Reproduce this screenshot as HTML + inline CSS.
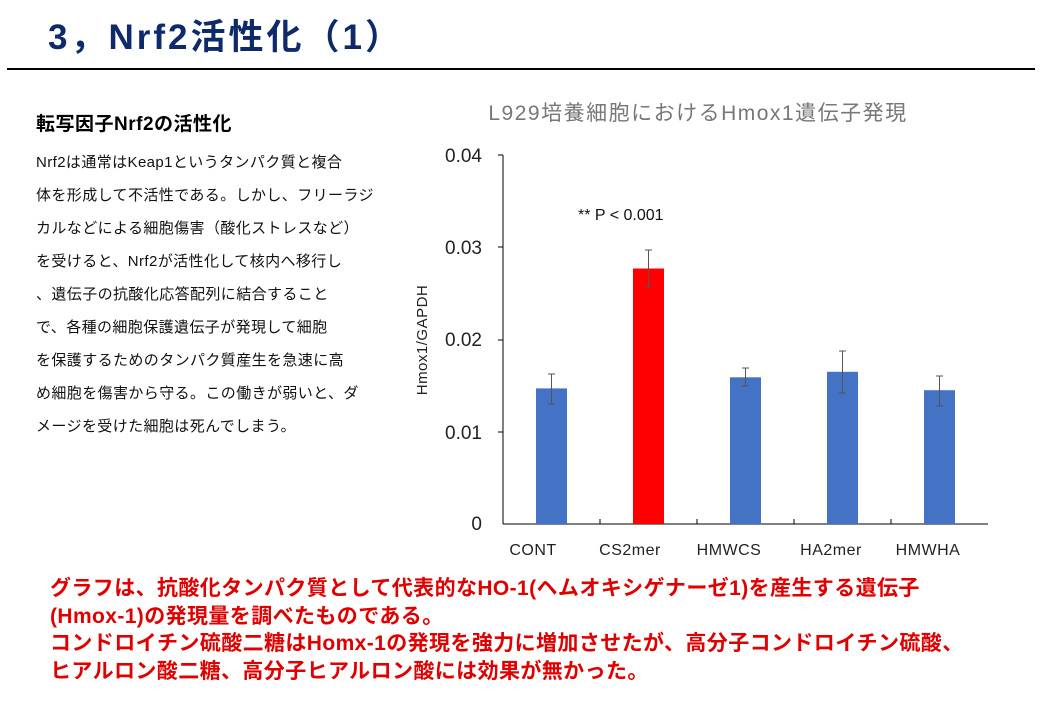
<!DOCTYPE html>
<html><head><meta charset="utf-8"><style>
body{margin:0;width:1040px;height:720px;background:#fff;position:relative;overflow:hidden;font-family:"Liberation Sans","Noto Sans CJK JP",sans-serif}
.t{position:absolute;white-space:nowrap}
</style></head><body>
<div class="t" style="left:48px;top:15px;font-size:35px;font-weight:bold;color:#0e2a6b;line-height:46px;letter-spacing:3px">3，Nrf2活性化（1）</div>
<div style="position:absolute;left:7px;top:68px;width:1028px;height:1.5px;background:#000"></div>
<div class="t" style="left:36px;top:112px;font-size:19px;font-weight:bold;line-height:26px;letter-spacing:0.5px">転写因子Nrf2の活性化</div>
<div class="t" style="left:36px;top:146px;font-size:15px;line-height:33px;color:#111;letter-spacing:0.4px">Nrf2は通常はKeap1というタンパク質と複合<br>体を形成して不活性である。しかし、フリーラジ<br>カルなどによる細胞傷害（酸化ストレスなど）<br>を受けると、Nrf2が活性化して核内へ移行し<br>、遺伝子の抗酸化応答配列に結合すること<br>で、各種の細胞保護遺伝子が発現して細胞<br>を保護するためのタンパク質産生を急速に高<br>め細胞を傷害から守る。この働きが弱いと、ダ<br>メージを受けた細胞は死んでしまう。</div>
<svg width="1040" height="720" style="position:absolute;left:0;top:0" font-family="Liberation Sans, Noto Sans CJK JP, sans-serif">
<text x="698" y="120" font-size="21" fill="#777" text-anchor="middle" letter-spacing="1.5">L929培養細胞におけるHmox1遺伝子発現</text>
<g font-size="19" fill="#222" text-anchor="end">
<text x="482" y="162">0.04</text><text x="482" y="254">0.03</text><text x="482" y="346">0.02</text><text x="482" y="439">0.01</text><text x="482" y="530">0</text>
</g>
<text transform="translate(427,340) rotate(-90)" font-size="15" fill="#222" text-anchor="middle" letter-spacing="0.5">Hmox1/GAPDH</text>
<g stroke="#000" stroke-width="1">
<line x1="503" y1="155" x2="503" y2="524"/><line x1="503" y1="524" x2="988" y2="524"/>
<line x1="498" y1="155" x2="503" y2="155"/><line x1="498" y1="247" x2="503" y2="247"/><line x1="498" y1="340" x2="503" y2="340"/><line x1="498" y1="432" x2="503" y2="432"/>
<line x1="600" y1="519" x2="600" y2="524"/><line x1="697" y1="519" x2="697" y2="524"/><line x1="794" y1="519" x2="794" y2="524"/><line x1="891" y1="519" x2="891" y2="524"/>
</g>
<rect x="536" y="388.4" width="31" height="135.6" fill="#4472c4"/>
<rect x="633" y="268.5" width="31" height="255.5" fill="#ff0000"/>
<rect x="730" y="377.3" width="31" height="146.7" fill="#4472c4"/>
<rect x="827" y="371.8" width="31" height="152.2" fill="#4472c4"/>
<rect x="924" y="390.2" width="31" height="133.8" fill="#4472c4"/>
<g stroke="#555" stroke-width="1">
<path d="M551.5 374v30M548 374h7M548 404h7"/>
<path d="M648.5 250v37M645 250h7M645 287h7"/>
<path d="M745.5 368v18M742 368h7M742 386h7"/>
<path d="M842.5 351v42M839 351h7M839 393h7"/>
<path d="M939.5 376v30M936 376h7M936 406h7"/>
</g>
<text x="578" y="220" font-size="16" fill="#111">** P &lt; 0.001</text>
<g font-size="16" fill="#222" text-anchor="middle" letter-spacing="0.5">
<text x="533" y="555">CONT</text><text x="630" y="555">CS2mer</text><text x="729" y="555">HMWCS</text><text x="831" y="555">HA2mer</text><text x="928" y="555">HMWHA</text>
</g>
</svg>
<div class="t" style="left:50px;top:575px;font-size:21px;font-weight:bold;color:#e00000;line-height:27.5px;letter-spacing:0.4px">グラフは、抗酸化タンパク質として代表的なHO-1(ヘムオキシゲナーゼ1)を産生する遺伝子<br>(Hmox-1)の発現量を調べたものである。<br>コンドロイチン硫酸二糖はHomx-1の発現を強力に増加させたが、高分子コンドロイチン硫酸、<br>ヒアルロン酸二糖、高分子ヒアルロン酸には効果が無かった。</div>
</body></html>
